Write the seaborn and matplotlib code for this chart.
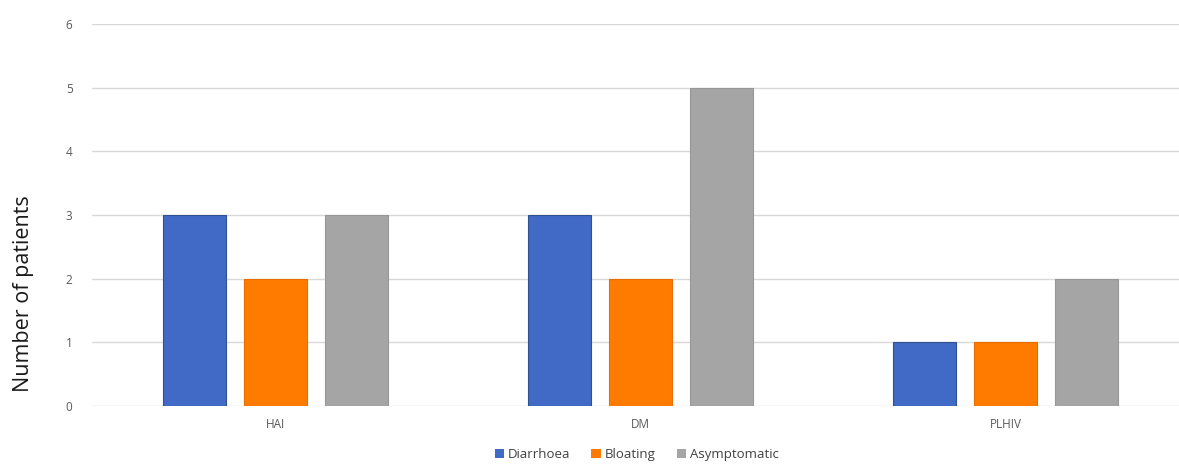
import matplotlib
matplotlib.use("Agg")
import matplotlib.pyplot as plt
import seaborn as sns
import pandas as pd

groups = ["HAI", "DM", "PLHIV"]
symptoms = ["Diarrhoea", "Bloating", "Asymptomatic"]
diarrhoea = [3, 3, 1]
bloating = [2, 2, 1]
asymptomatic = [3, 5, 2]
colors = ["#4169C6", "#FF7B00", "#A5A5A5"]
edge_colors = ["#2F528F", "#E86E00", "#979797"]

rows = []
for name, vals in zip(symptoms, [diarrhoea, bloating, asymptomatic]):
    for g, v in zip(groups, vals):
        rows.append({"group": g, "symptom": name, "patients": v})
df = pd.DataFrame(rows)

sns.set_theme(style="white")
plt.rcParams["font.family"] = ["Open Sans", "DejaVu Sans"]

fig = plt.figure(figsize=(11.79, 4.65), dpi=100)
ax = fig.add_axes([0.078, 0.127, 0.922, 0.821])

sns.barplot(data=df, x="group", y="patients", hue="symptom",
            order=groups, hue_order=symptoms, palette=colors, saturation=1,
            width=0.666, gap=0.22, ax=ax, legend=False, zorder=3)

for patches, ec in zip(ax.containers, edge_colors):
    for p in patches:
        p.set_edgecolor(ec)
        p.set_linewidth(0.8)

ax.set_ylim(0, 6)
ax.set_xlim(-0.503, 2.475)
ax.set_yticks(range(0, 7))
ax.yaxis.grid(True, color="#D9D9D9", linewidth=1.0, zorder=0)
ax.set_axisbelow(True)
for s in ax.spines.values():
    s.set_visible(False)

ax.tick_params(axis="y", length=0, pad=14, labelsize=8.5, labelcolor="#595959")
ax.tick_params(axis="x", length=0, pad=9, labelsize=8.5, labelcolor="#595959")
ax.set_xlabel("")
ax.set_ylabel("Number of patients", fontsize=15.5, color="#1a1a1a", va="center")
ax.yaxis.set_label_coords(-0.0626, 0.293)

handles = [plt.Rectangle((0, 0), 1, 1, facecolor=c, edgecolor="none") for c in colors]
fig.legend(handles, symptoms, loc="center", bbox_to_anchor=(0.54, 0.022),
           ncol=3, frameon=False, fontsize=9.5, handlelength=0.7, handleheight=0.7,
           handletextpad=0.3, columnspacing=1.6, labelcolor="#404040",
           borderpad=0.1)

fig.savefig("out.png", dpi=100, facecolor="white")
